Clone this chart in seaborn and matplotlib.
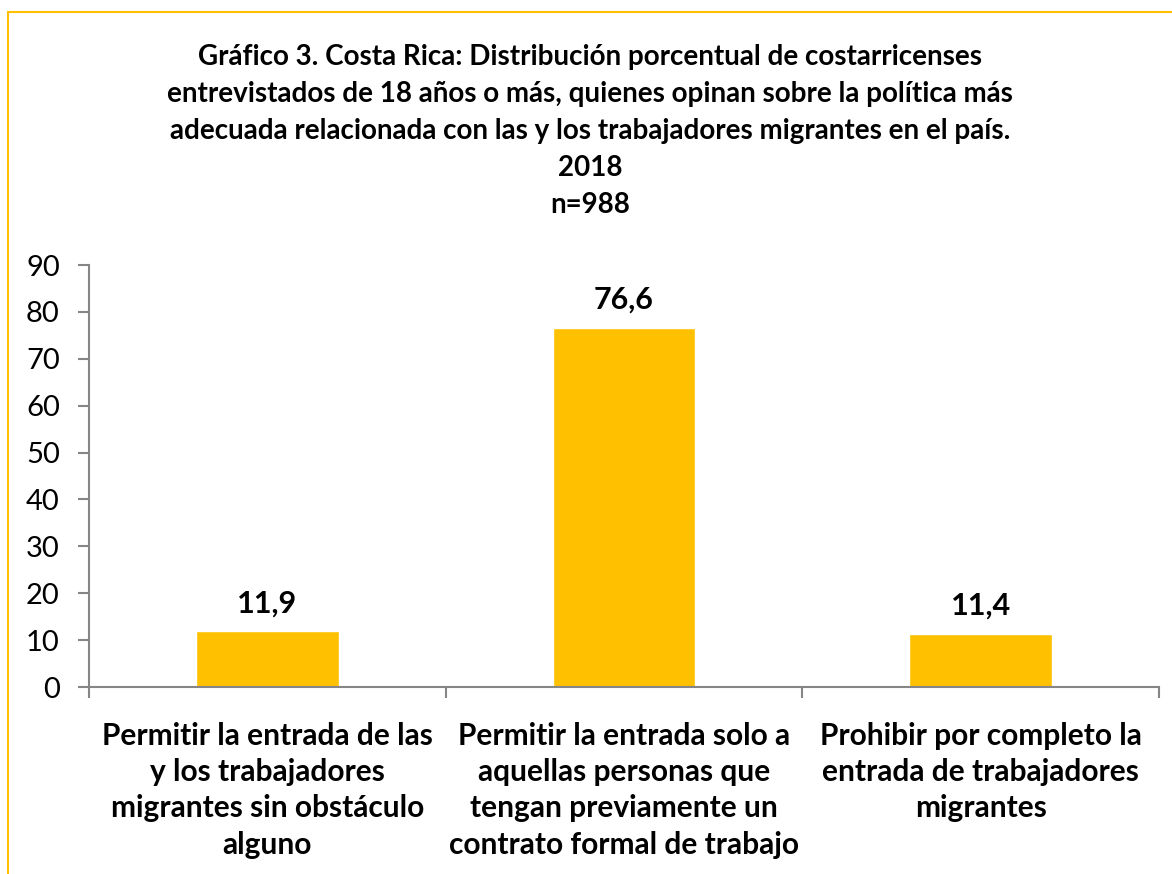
import matplotlib
matplotlib.use("Agg")
import matplotlib.pyplot as plt
import seaborn as sns
import pandas as pd
from matplotlib.patches import Rectangle

categories = [
    "Permitir la entrada de las\ny los trabajadores\nmigrantes sin obstáculo\nalguno",
    "Permitir la entrada solo a\naquellas personas que\ntengan previamente un\ncontrato formal de trabajo",
    "Prohibir por completo la\nentrada de trabajadores\nmigrantes",
]
values = [11.9, 76.6, 11.4]
yticks = [0, 10, 20, 30, 40, 50, 60, 70, 80, 90]
title = ("Gráfico 3. Costa Rica: Distribución porcentual de costarricenses\n"
         "entrevistados de 18 años o más, quienes opinan sobre la política más\n"
         "adecuada relacionada con las y los trabajadores migrantes en el país.\n"
         "2018\nn=988")

sns.set_theme(style="white")
plt.rcParams['font.family'] = ['Lato', 'DejaVu Sans']
plt.rcParams['text.color'] = 'black'
plt.rcParams['xtick.color'] = 'black'
plt.rcParams['ytick.color'] = 'black'
plt.rcParams['axes.labelcolor'] = 'black'

fig = plt.figure(figsize=(11.72, 8.74), dpi=100)
ax = fig.add_axes([89/1172, 1-687/874, (1159-89)/1172, (687-265)/874])

df = pd.DataFrame({"cat": categories, "val": values})
sns.barplot(data=df, x="cat", y="val", color="#FFC000", width=0.4, ax=ax, saturation=1)

ax.set_ylim(0, 90)
ax.set_xlim(-0.5, 2.5)
ax.set_yticks(yticks)
ax.set_yticklabels([str(t) for t in yticks], fontsize=21, color="black")
ax.set_xlabel("")
ax.set_ylabel("")
ax.tick_params(axis='x', which='major', length=0, pad=25, labelcolor="black")
for lbl in ax.get_xticklabels():
    lbl.set_fontsize(21.5)
    lbl.set_fontweight("bold")
    lbl.set_linespacing(1.36)
    lbl.set_color("black")
ax.set_xticks([-0.5, 0.5, 1.5, 2.5], minor=True)
ax.tick_params(axis='x', which='minor', length=8, width=1.5, color="#868686", direction="out", bottom=True)
ax.tick_params(axis='y', length=8, width=1.5, color="#868686", direction="out", left=True, pad=13, labelcolor="black")

for s in ["top", "right"]:
    ax.spines[s].set_visible(False)
for s in ["left", "bottom"]:
    ax.spines[s].set_color("#868686")
    ax.spines[s].set_linewidth(1.5)

for c in ax.containers:
    ax.bar_label(c, labels=[f"{v:.1f}".replace(".", ",") for v in values],
                 padding=10, fontsize=22, fontweight="bold", color="black")

fig.text(590/1172, 1-44/874, title, ha="center", va="top", fontsize=20,
         fontweight="bold", linespacing=1.52, color="black")

fig.patches.append(Rectangle((8/1172, -0.1), 1.2, 1 - 12/874 + 0.1, transform=fig.transFigure,
                             fill=False, edgecolor="#FFC000", linewidth=1.5, zorder=10))

fig.savefig("out.png", dpi=100)
